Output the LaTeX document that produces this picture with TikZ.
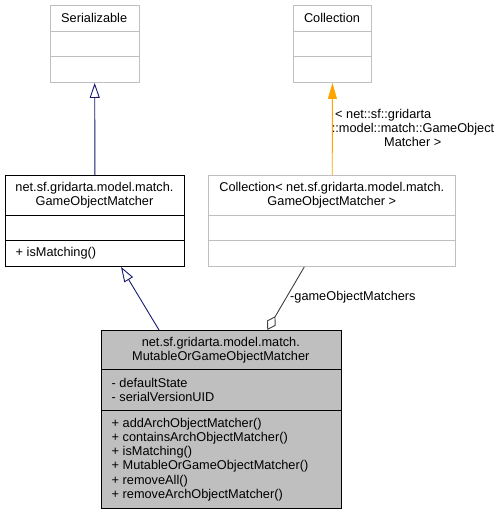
\documentclass[tikz,border=0pt]{standalone}
\usepackage{fontspec}
\setmainfont{Liberation Sans}
\usetikzlibrary{arrows.meta}
\definecolor{edgeblue}{HTML}{191970}
\definecolor{edgeorange}{HTML}{FFA500}
\definecolor{boxfill}{HTML}{BFBFBF}
\definecolor{boxline}{HTML}{BFBFBF}
\begin{document}
\begin{tikzpicture}[x=1pt,y=-1pt,
  every node/.style={font=\fontsize{12.75}{14.3}\selectfont, inner sep=0pt},
  umlbox/.style={draw=#1, line width=0.9pt, anchor=north west, rectangle},
  umlbox/.default=black,
  divider/.style={draw=#1, line width=0.9pt},
  divider/.default=black,
  inh/.style={draw=edgeblue, line width=0.9pt, -{Triangle[open, length=15pt, width=10pt, fill=white]}},
  tmpl/.style={draw=edgeorange, line width=0.9pt, -{Triangle[length=16pt, width=9pt]}},
  aggr/.style={draw=black!75, line width=0.9pt, -{Diamond[open, length=16pt, width=10pt, fill=white]}},
  ttl/.style={align=center},
  mem/.style={align=left, anchor=west}]
\useasboundingbox[fill=white] (0,0) rectangle (500,515);

% Serializable
\node[umlbox=boxline, minimum width=88.5pt, minimum height=77pt] (ser) at (50,5) {};
\draw[divider=boxline] ([yshift=-26pt]ser.north west) -- ([yshift=-26pt]ser.north east);
\draw[divider=boxline] ([yshift=-51.7pt]ser.north west) -- ([yshift=-51.7pt]ser.north east);
\node[ttl] (serT) at (94.2,18) {Serializable};

% Collection
\node[umlbox=boxline, minimum width=78.6pt, minimum height=77pt] (col) at (292.7,5) {};
\draw[divider=boxline] ([yshift=-26pt]col.north west) -- ([yshift=-26pt]col.north east);
\draw[divider=boxline] ([yshift=-51.7pt]col.north west) -- ([yshift=-51.7pt]col.north east);
\node[ttl] (colT) at (332,18) {Collection};

% GameObjectMatcher
\node[umlbox, minimum width=179pt, minimum height=91pt] (gom) at (5,175) {};
\draw[divider] ([yshift=-40pt]gom.north west) -- ([yshift=-40pt]gom.north east);
\draw[divider] ([yshift=-65pt]gom.north west) -- ([yshift=-65pt]gom.north east);
\node[ttl] (gomT) at (94.5,195.5) {net.sf.gridarta.model.match.\\GameObjectMatcher};
\node[mem] (gomM) at (15.5,253) {+ isMatching()};

% Collection< ... >
\node[umlbox=boxline, minimum width=247pt, minimum height=91pt] (col2) at (208.3,175) {};
\draw[divider=boxline] ([yshift=-40pt]col2.north west) -- ([yshift=-40pt]col2.north east);
\draw[divider=boxline] ([yshift=-65pt]col2.north west) -- ([yshift=-65pt]col2.north east);
\node[ttl] (col2T) at (331.8,195.5) {Collection< net.sf.gridarta.model.match.\\GameObjectMatcher >};

% MutableOrGameObjectMatcher
\node[umlbox, fill=boxfill, minimum width=239.7pt, minimum height=178.3pt] (mut) at (101,330) {};
\draw[divider] ([yshift=-39.3pt]mut.north west) -- ([yshift=-39.3pt]mut.north east);
\draw[divider] ([yshift=-80pt]mut.north west) -- ([yshift=-80pt]mut.north east);
\node[ttl] (mutT) at (220.8,350) {net.sf.gridarta.model.match.\\MutableOrGameObjectMatcher};
\node[mem] (mutA) at (111.5,389.7) {- defaultState\\- serialVersionUID};
\node[mem] (mutM) at (111.5,459.5) {+ addArchObjectMatcher()\\+ containsArchObjectMatcher()\\+ isMatching()\\+ MutableOrGameObjectMatcher()\\+ removeAll()\\+ removeArchObjectMatcher()};

% connectors
\draw[inh] (gom.north) -- (ser.south);
\draw[inh] ([xshift=58pt]mut.north west) -- ([xshift=116pt]gom.south west);
\draw[tmpl] (col2.north) -- (col.south);
\draw[aggr] ([xshift=96pt]col2.south west) -- ([xshift=166.3pt]mut.north west);

% labels
\node[mem] (tmplL) at (331.7,128) {\hspace*{3.3pt}< net::sf::gridarta\\::model::match::GameObject\\\hspace*{52.3pt}Matcher >};
\node[mem] (aggrL) at (290,297) {-gameObjectMatchers};
\end{tikzpicture}
\end{document}
